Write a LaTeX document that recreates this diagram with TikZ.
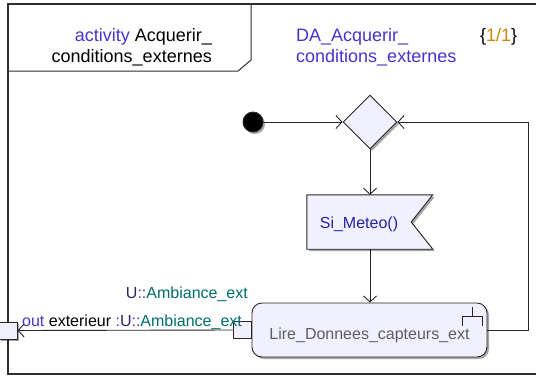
\documentclass[tikz,border=0pt]{standalone}
\usepackage{fontspec}
\setmainfont{Liberation Sans}
\usetikzlibrary{arrows.meta, positioning, shapes.geometric, shadows, calc}
\definecolor{kwpurple}{RGB}{72, 52, 205}
\definecolor{numorange}{RGB}{200, 135, 10}
\definecolor{typeteal}{RGB}{0, 110, 105}
\definecolor{typenavy}{RGB}{40, 40, 100}
\definecolor{sigblue}{RGB}{35, 35, 165}
\definecolor{actgray}{RGB}{95, 95, 95}
\definecolor{umlfill}{RGB}{240, 240, 254}
\definecolor{framegray}{RGB}{45, 45, 45}

\begin{document}
\begin{tikzpicture}[
    x=1pt, y=-1pt,
    shade/.style={drop shadow={shadow xshift=2pt, shadow yshift=-2pt, fill=black, opacity=0.35}},
    elem/.style={draw=black!85, fill=umlfill, line width=0.9pt, shade},
    pinbox/.style={draw=black!85, fill=umlfill, line width=0.9pt, minimum width=18pt, minimum height=17pt, inner sep=0pt},
    title/.style={font=\fontsize{18}{21}\selectfont, inner sep=0pt},
    lbl/.style={font=\fontsize{16}{19}\selectfont, inner sep=0pt},
    flow/.style={-{Straight Barb[length=6pt, width=13pt]}, line width=0.9pt, black!85}
  ]
    \useasboundingbox (0,0) rectangle (536,376);
    \fill[white] (0,0) rectangle (536,376);

    % frame and title tab
    \draw[framegray, line width=1.4pt] (536,4) -- (8,4) -- (8,374) -- (536,374);
    \draw[framegray, line width=1pt] (251,4) -- (251,60) -- (238,71) -- (8,71);
    \node[title, anchor=east, align=right] (acttitle) at (212,47)
      {\textcolor{kwpurple}{activity} Acquerir\_\\conditions\_externes};
    \node[title, anchor=west, align=left, text=kwpurple] (dname) at (296,47)
      {DA\_Acquerir\_\\conditions\_externes};
    \node[title, anchor=west] (pagenum) at (480,37) {\{\textcolor{numorange}{1/1}\}};

    % nodes
    \node[elem, circle, fill=black, minimum size=20pt, inner sep=0pt] (init) at (253,122) {};
    \node[elem, diamond, minimum width=54pt, minimum height=54pt, inner sep=0pt] (dec) at (370,122) {};
    \node[minimum width=104pt, minimum height=54pt, inner sep=0pt] (meteo) at (359,222) {};
    \path[elem] (meteo.north west) -- ++(126,0) -- (meteo.east) -- ($(meteo.south west)+(126,0)$)
      -- (meteo.south west) -- cycle;
    \node[lbl, text=sigblue] (meteotxt) at ($(meteo.center)+(0,2)$) {Si\_Meteo()};
    \node[elem, rounded corners=10pt, minimum width=235pt, minimum height=54pt, inner sep=0pt] (lire) at (369.5,330) {};
    \node[lbl, text=actgray] (liretxt) at ($(lire.center)+(0,5)$) {Lire\_Donnees\_capteurs\_ext};
    % rake
    \draw[black!85, line width=1pt] (lire.north east) ++(-15,4) -- ++(0,10);
    \draw[black!85, line width=1pt] (lire.north east) ++(-25,23) -- ++(0,-9) -- ++(20,0) -- ++(0,9);
    \node[pinbox, left=0pt of lire.west] (inpin) {};
    \node[pinbox, shade] (outpin) at (8,330.5) {};

    % labels
    \node[lbl, anchor=east] (pintype) at (248,294)
      {\textcolor{typenavy}{U}\textcolor{kwpurple}{::}\textcolor{typeteal}{Ambiance\_ext}};
    \node[lbl, anchor=west] (pinlabel) at (22,322)
      {\textcolor{kwpurple}{out} exterieur \textcolor{kwpurple}{:}\textcolor{typenavy}{U}\textcolor{kwpurple}{::}\textcolor{typeteal}{Ambiance\_ext}};

    % flows
    \draw[flow] (init) -- (dec.west);
    \draw[flow] (dec.south) -- (dec.south |- meteo.north);
    \draw[flow] (dec.south |- meteo.south) -- (dec.south |- lire.north);
    \draw[flow] (lire.east) -- (528,330) -- (528,122) -- (dec.east);
    \draw[flow] (inpin.west) -- (outpin.east);
  \end{tikzpicture}
\end{document}
